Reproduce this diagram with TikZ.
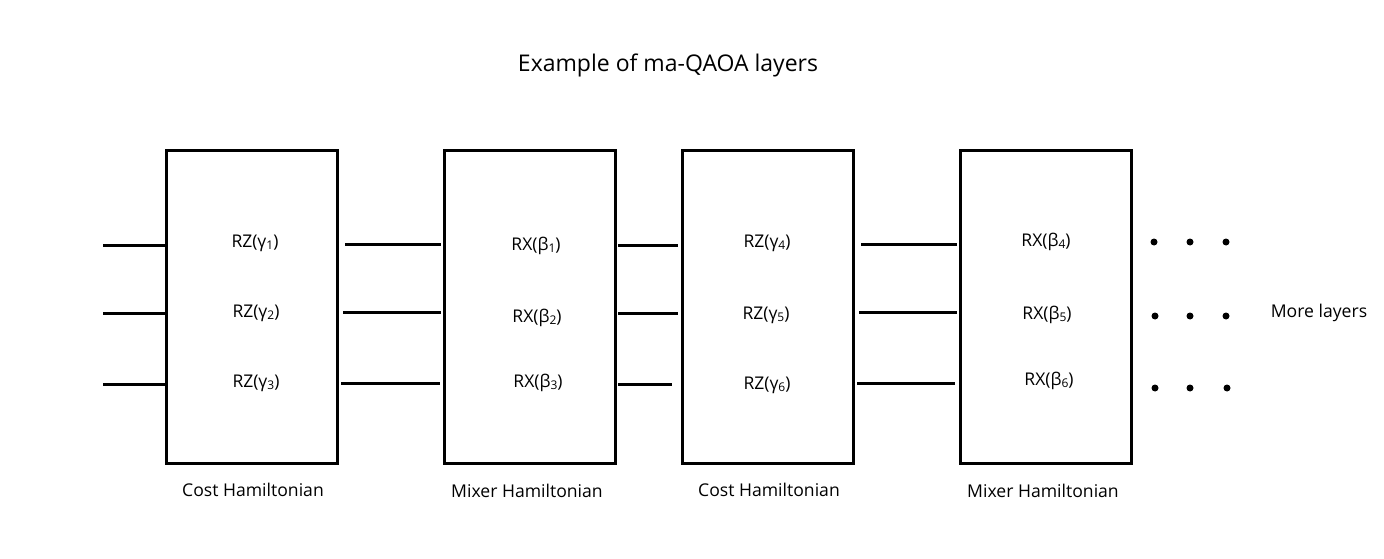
\documentclass[tikz,border=0pt]{standalone}
\usepackage{fontspec}
\setmainfont{Open Sans}
\newcommand{\sbs}[1]{\raisebox{-0.2ex}{\fontsize{12}{12}\selectfont #1}}
\begin{document}
\begin{tikzpicture}[x=1pt,y=-1pt,
  box/.style={draw,line width=3pt,minimum width=171pt,minimum height=312pt,inner sep=0pt,outer sep=0pt},
  wire/.style={line width=3pt},
  gate/.style={font=\fontsize{17.5}{20}\selectfont,inner sep=0pt},
  lbl/.style={font=\fontsize{17.6}{20}\selectfont,inner sep=0pt},
  ttl/.style={font=\fontsize{23}{26}\selectfont,inner sep=0pt},
  dotm/.style={circle,fill,inner sep=0pt,minimum size=7pt}]
\useasboundingbox (0,0) rectangle (1384,559);

\node[ttl] (title) at (668,65) {Example of ma-QAOA layers};

\node[box] (b1) at (251.5,307) {};
\node[box] (b2) at (529.5,307) {};
\node[box] (b3) at (767.5,307) {};
\node[box] (b4) at (1045.5,307) {};

% gate labels
\node[gate] (g1) at (255,243) {RZ(γ\sbs{1})};
\node[gate] (g2) at (256,313) {RZ(γ\sbs{2})};
\node[gate] (g3) at (256,383) {RZ(γ\sbs{3})};
\node[gate] (g4) at (536,246) {RX(β\sbs{1})};
\node[gate] (g5) at (537,318) {RX(β\sbs{2})};
\node[gate] (g6) at (538,383) {RX(β\sbs{3})};
\node[gate] (g7) at (767,243) {RZ(γ\sbs{4})};
\node[gate] (g8) at (766,315) {RZ(γ\sbs{5})};
\node[gate] (g9) at (767,385) {RZ(γ\sbs{6})};
\node[gate] (g10) at (1046,242) {RX(β\sbs{4})};
\node[gate] (g11) at (1047,315) {RX(β\sbs{5})};
\node[gate] (g12) at (1049,381) {RX(β\sbs{6})};

% bottom labels
\node[lbl] (l1) at (253,490) {Cost Hamiltonian};
\node[lbl] (l2) at (527,491) {Mixer Hamiltonian};
\node[lbl] (l3) at (769,490) {Cost Hamiltonian};
\node[lbl] (l4) at (1043,491) {Mixer Hamiltonian};
\node[lbl] (more) at (1319,313) {More layers};

% wire end points
\coordinate (i1) at (103,245); \coordinate (i2) at (103,313); \coordinate (i3) at (103,384);
\coordinate (a1) at (166,245); \coordinate (a2) at (166,313); \coordinate (a3) at (166,384);
\coordinate (c1) at (345,244); \coordinate (c2) at (343,312); \coordinate (c3) at (341,383);
\coordinate (d1) at (441,244); \coordinate (d2) at (441,312); \coordinate (d3) at (440,383);
\coordinate (e1) at (618,245); \coordinate (e2) at (618,313); \coordinate (e3) at (618,384);
\coordinate (f1) at (678,245); \coordinate (f2) at (678,313); \coordinate (f3) at (672,384);
\coordinate (h1) at (861,244); \coordinate (h2) at (859,312); \coordinate (h3) at (857,383);
\coordinate (k1) at (957,244); \coordinate (k2) at (957,312); \coordinate (k3) at (955,383);

\foreach \n in {1,2,3}{
  \draw[wire] (i\n) -- (a\n);
  \draw[wire] (c\n) -- (d\n);
  \draw[wire] (e\n) -- (f\n);
  \draw[wire] (h\n) -- (k\n);
}

% dots
\node[dotm] (p11) at (1154,242) {};
\node[dotm] (p12) at (1190,242) {};
\node[dotm] (p13) at (1226,242) {};
\node[dotm] (p21) at (1155,316) {};
\node[dotm] (p22) at (1190,316) {};
\node[dotm] (p23) at (1226,316) {};
\node[dotm] (p31) at (1155,388) {};
\node[dotm] (p32) at (1190,388) {};
\node[dotm] (p33) at (1227,388) {};
\end{tikzpicture}
\end{document}
